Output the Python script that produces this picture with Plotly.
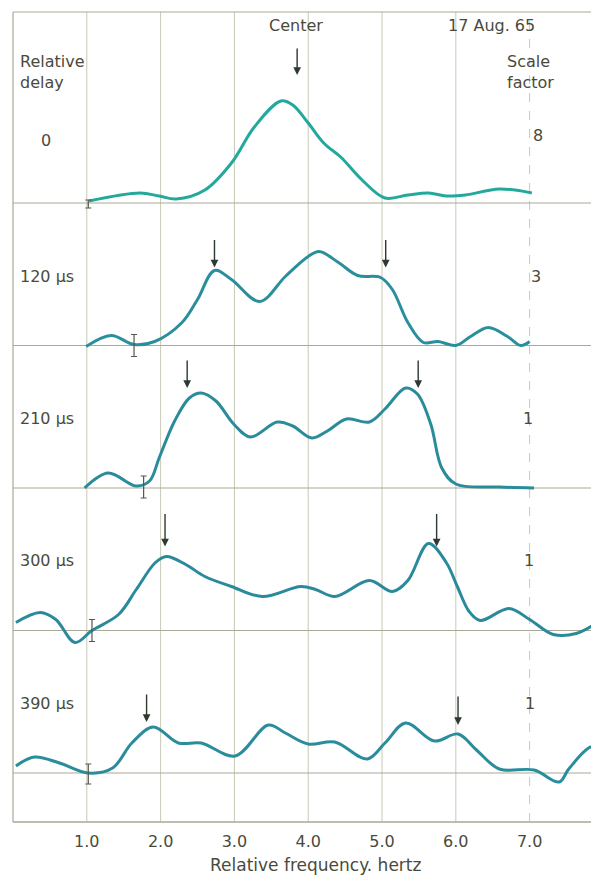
import plotly.graph_objects as go

# ---------------- data ----------------
# relative frequency (hertz) and relative amplitude above each panel baseline
delay_labels = ["0", "120 µs", "210 µs", "300 µs", "390 µs"]
scale_factors = ["8", "3", "1", "1", "1"]

f0 = [1.03, 1.72, 1.98, 2.21, 2.60, 2.96, 3.27, 3.63, 3.79, 4.00, 4.21, 4.44, 4.73, 5.04, 5.35, 5.63, 5.87, 6.13, 6.59, 7.03]
a0 = [2, 10, 7, 4, 13, 40, 76, 102, 98, 80, 60, 46, 23, 5, 8, 10, 7, 8, 14, 10]

f1 = [0.99, 1.33, 1.64, 1.92, 2.29, 2.50, 2.73, 2.96, 3.34, 3.69, 4.00, 4.15, 4.41, 4.67, 4.98, 5.14, 5.35, 5.56, 5.76, 6.00, 6.20, 6.44, 6.70, 6.88, 7.00]
a1 = [-1, 10, 1, 4, 23, 46, 75, 66, 44, 69, 89, 94, 83, 70, 68, 56, 23, 3, 4, 0, 9, 18, 9, 0, 4]

f2 = [0.97, 1.29, 1.67, 1.85, 1.98, 2.19, 2.39, 2.55, 2.75, 2.99, 3.22, 3.58, 3.79, 4.05, 4.26, 4.52, 4.83, 5.04, 5.32, 5.48, 5.66, 5.81, 6.00, 6.59, 7.06]
a2 = [0, 15, 2, 7, 30, 67, 90, 95, 87, 64, 51, 66, 62, 50, 57, 69, 66, 79, 100, 94, 64, 20, 4, 1, 0]

f3 = [0.04, 0.37, 0.58, 0.84, 1.07, 1.43, 1.67, 1.93, 2.08, 2.34, 2.60, 2.96, 3.38, 3.90, 4.10, 4.36, 4.83, 5.14, 5.35, 5.63, 5.87, 6.02, 6.18, 6.33, 6.72, 7.00, 7.32, 7.63, 7.98]
a3 = [8, 18, 11, -12, 0, 16, 41, 68, 74, 66, 54, 44, 34, 44, 41, 34, 50, 39, 50, 87, 68, 44, 19, 10, 22, 11, -4, -3, 11]

f4 = [0.04, 0.29, 0.63, 1.02, 1.35, 1.61, 1.90, 2.24, 2.55, 3.01, 3.46, 3.69, 4.00, 4.36, 4.80, 5.04, 5.32, 5.71, 6.03, 6.28, 6.59, 7.06, 7.40, 7.53, 7.83, 7.98]
a4 = [7, 16, 10, 0, 5, 30, 46, 30, 30, 17, 48, 40, 29, 31, 14, 30, 50, 32, 39, 23, 4, 3, -9, 4, 26, 23]

freqs = [f0, f1, f2, f3, f4]
amps = [a0, a1, a2, a3, a4]

# marked peaks (arrows): frequency, tip amplitude, tail amplitude
arrow_panel = [0, 1, 1, 2, 2, 3, 3, 4, 4]
arrow_freq = [3.85, 2.73, 5.05, 2.36, 5.49, 2.06, 5.74, 1.81, 6.03]
arrow_tip = [128, 78, 78, 100, 100, 84, 84, 51, 48]
arrow_tail = [156, 107, 107, 129, 129, 118, 118, 80, 78]

# small "I" error marks: panel, frequency, centre amplitude, half height
err_panel = [0, 1, 2, 3, 4]
err_freq = [1.02, 1.64, 1.77, 1.07, 1.02]
err_mid = [-1, 0, 1, 0, -1]
err_half = [4, 11, 11, 11, 10]

tick_vals = [1, 2, 3, 4, 5, 6, 7]
tick_text = ["1.0", "2.0", "3.0", "4.0", "5.0", "6.0", "7.0"]

# ---------------- layout helpers ----------------
# page has an 8px body margin, so the figure is sized/offset to compensate
W, H = 591, 867
ML, MR, MT, MB = 5, 0, 4, 53
SPACING = 142.5
def base(i):
    return 49 + (4 - i) * SPACING

TXT = "#4a4a3c"
GRID = "#c9c9b6"
FRAME = "#a9a996"
FONT = "DejaVu Sans"
curve_colors = ["#23a99c", "#2a8f9c", "#2a8c9a", "#2a8a9c", "#2a8c9c"]

fig = go.Figure()

for i in range(5):
    fig.add_trace(go.Scatter(
        x=freqs[i], y=[base(i) + v for v in amps[i]],
        mode="lines", line=dict(color=curve_colors[i], width=3, shape="spline", smoothing=1.0),
        hoverinfo="skip", showlegend=False))

# error marks
fig.add_trace(go.Scatter(
    x=err_freq, y=[base(p) + m for p, m in zip(err_panel, err_mid)],
    mode="markers", marker=dict(size=1, color="#55574a"),
    error_y=dict(type="data", array=err_half, symmetric=True, color="#55574a", thickness=1.2, width=3),
    hoverinfo="skip", showlegend=False))

shapes = []
# vertical grid lines
for t in tick_vals:
    shapes.append(dict(type="line", xref="x", yref="paper", x0=t, x1=t, y0=0, y1=1,
                       line=dict(color=GRID, width=1, dash="dash" if t == 7 else "solid"), layer="below"))
# panel baselines
for i in range(5):
    shapes.append(dict(type="line", xref="paper", yref="y", x0=0, x1=1, y0=base(i), y1=base(i),
                       line=dict(color=FRAME, width=1.2), layer="below"))
# frame: top, left, bottom
shapes.append(dict(type="line", xref="paper", yref="paper", x0=0, x1=1, y0=1, y1=1, line=dict(color=FRAME, width=1.2)))
shapes.append(dict(type="line", xref="paper", yref="paper", x0=0, x1=0, y0=0, y1=1, line=dict(color=FRAME, width=1.2)))
shapes.append(dict(type="line", xref="paper", yref="paper", x0=0, x1=1, y0=0, y1=0, line=dict(color=FRAME, width=1.4)))

ann = []
for p, fx, tip, tail in zip(arrow_panel, arrow_freq, arrow_tip, arrow_tail):
    ann.append(dict(x=fx, y=base(p) + tip, ax=fx, ay=base(p) + tail, xref="x", yref="y",
                    axref="x", ayref="y", text="", showarrow=True, arrowhead=2, arrowsize=1.1,
                    arrowwidth=1.4, arrowcolor="#2c3a30"))

fs = 16
def txt(s, x, y, xa="center"):
    ann.append(dict(text=s, x=x, y=y, xref="x", yref="y", showarrow=False, xanchor=xa,
                    align=xa, yanchor="middle", font=dict(family=FONT, size=fs, color=TXT)))

txt("Center", 3.83, 797)
txt("17 Aug. 65", 6.49, 797)
txt("Relative<br>delay", 0.07, 750, "left")
txt("Scale<br>factor", 6.67, 750, "left")
label_y = [682, 546, 404, 262, 119]
label_x = [0.45, 0.07, 0.07, 0.07, 0.07]
label_anchor = ["center", "left", "left", "left", "left"]
scale_x = [7.12, 7.09, 6.98, 6.99, 7.0]
for i in range(5):
    txt(delay_labels[i], label_x[i], label_y[i], label_anchor[i])
    txt(scale_factors[i], scale_x[i], label_y[i] + (5 if i == 0 else 0))

ann.append(dict(text="Relative frequency. hertz", x=4.1, y=-0.053, xref="x", yref="paper",
                showarrow=False, xanchor="center", yanchor="middle",
                font=dict(family=FONT, size=17, color=TXT)))

fig.update_layout(
    width=W, height=H, margin=dict(l=ML, r=MR, t=MT, b=MB),
    paper_bgcolor="white", plot_bgcolor="white",
    shapes=shapes, annotations=ann, showlegend=False,
    xaxis=dict(range=[0, 7.94], tickvals=tick_vals, ticktext=tick_text, showgrid=False,
               zeroline=False, showline=False, ticks="outside", ticklen=5,
               tickcolor="rgba(0,0,0,0)", fixedrange=True,
               tickfont=dict(family=FONT, size=fs, color=TXT)),
    yaxis=dict(range=[0, 810], showticklabels=False, showgrid=False, zeroline=False,
               showline=False, ticks="", fixedrange=True),
)

fig.write_html("out.html")
